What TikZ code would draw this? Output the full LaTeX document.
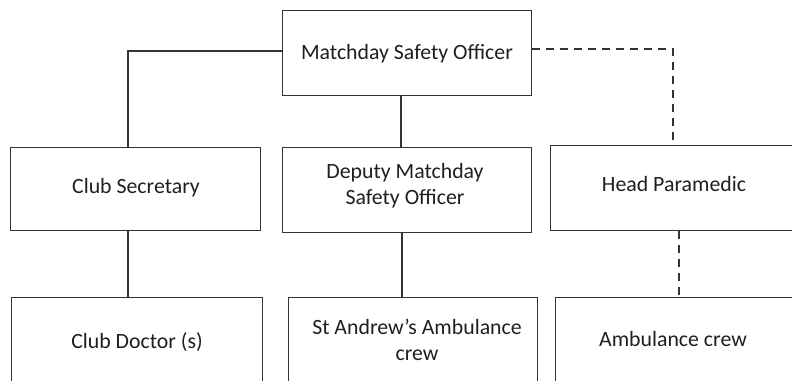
\documentclass[tikz,border=0pt]{standalone}
\usepackage{fontspec}
\defaultfontfeatures{}
\setmainfont{Carlito}
\begin{document}
\begin{tikzpicture}[x=1pt,y=-1pt,
  box/.style={draw=black!80,line width=1.3pt,rectangle,inner sep=0pt,anchor=north west},
  lbl/.style={text=black!88,font=\fontsize{21.8}{26}\selectfont,align=center,inner sep=0pt},
  conn/.style={draw=black!80,line width=1.3pt},
  dconn/.style={draw=black!80,line width=1.3pt,dash pattern=on 8pt off 6pt}]
\useasboundingbox (0,0) rectangle (792,380);
\node[box,minimum width=249pt,minimum height=85pt] (mso) at (282,10) {};
\node[box,minimum width=250pt,minimum height=83pt] (cs) at (10,147) {};
\node[box,minimum width=249pt,minimum height=85pt] (dep) at (282,147) {};
\node[box,minimum width=250pt,minimum height=85pt] (hp) at (550,145) {};
\node[box,minimum width=251pt,minimum height=110pt] (cd) at (11,297) {};
\node[box,minimum width=249pt,minimum height=110pt] (sa) at (288,297) {};
\node[box,minimum width=250pt,minimum height=110pt] (ac) at (555,297) {};
\node[lbl] at (407,54) {Matchday Safety Officer};
\node[lbl] at (136,188) {Club Secretary};
\node[lbl] at (405,186) {Deputy Matchday\\Safety Officer};
\node[lbl] at (674,184) {Head Paramedic};
\node[lbl] at (137,342) {Club Doctor (s)};
\node[lbl] at (417,340) {St Andrew's Ambulance\\crew};
\node[lbl] at (673,339) {Ambulance crew};
\coordinate (c1) at (128,51);
\coordinate (c2) at (673,49);
\draw[conn] (mso.west |- c1) -- (c1) -- (c1 |- cs.north);
\draw[conn] (mso.south -| 401,0) -- (dep.north -| 401,0);
\draw[dconn] (mso.east |- c2) -- (c2) -- (c2 |- hp.north);
\draw[conn] (cs.south -| 128,0) -- (cd.north -| 128,0);
\draw[conn] (dep.south -| 402,0) -- (sa.north -| 402,0);
\draw[dconn] (hp.south -| 679,0) -- (ac.north -| 679,0);
\end{tikzpicture}
\end{document}
